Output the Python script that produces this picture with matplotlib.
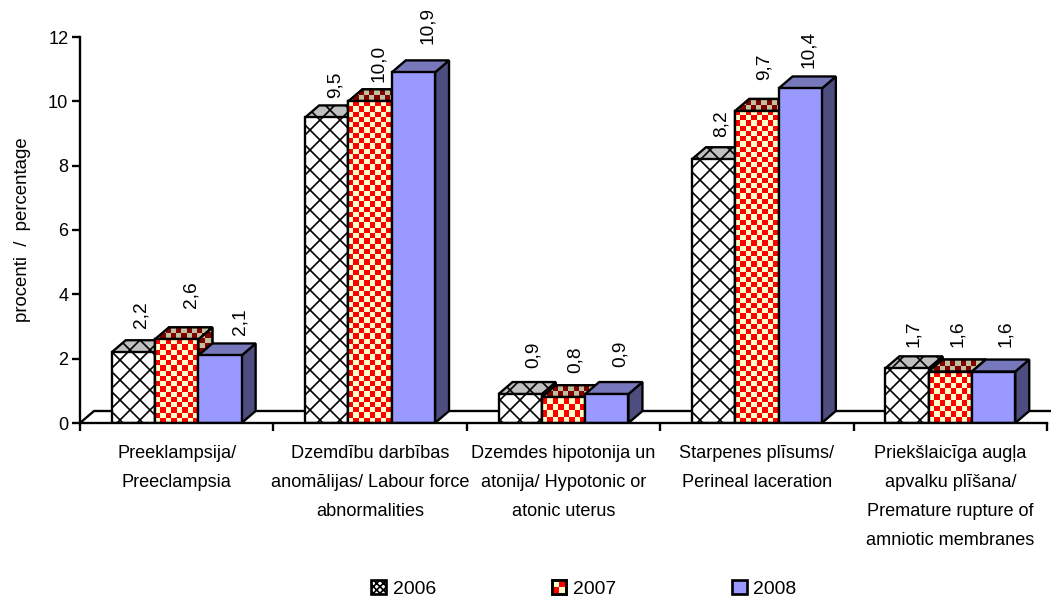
import matplotlib
matplotlib.use('Agg')
import matplotlib.pyplot as plt
import numpy as np
from matplotlib.colors import ListedColormap
from matplotlib.legend_handler import HandlerBase
from matplotlib.patches import Patch, Polygon, Rectangle

categories = ['Preeklampsija/\nPreeclampsia',
              'Dzemdību darbības\nanomālijas/ Labour force\nabnormalities',
              'Dzemdes hipotonija un\natonija/ Hypotonic or\natonic uterus',
              'Starpenes plīsums/\nPerineal laceration',
              'Priekšlaicīga augļa\napvalku plīšana/\nPremature rupture of\namniotic membranes']
years = ['2006', '2007', '2008']
v2006 = [2.2, 9.5, 0.9, 8.2, 1.7]
v2007 = [2.6, 10.0, 0.8, 9.7, 1.6]
v2008 = [2.1, 10.9, 0.9, 10.4, 1.6]
series = [v2006, v2007, v2008]
yticks = [0, 2, 4, 6, 8, 10, 12]

# hand placed value labels, offsets in pixels from the bar top, per year
label_dx = [[8, 8, 13, 8, 6], [14, 8, 12, 7, 7], [20, 14, 13, 8, 12]]
label_dy = [[24, 19, 26, 22, 21], [31, 19, 24, 31, 25], [20, 28, 27, 20, 25]]

plt.rcParams['font.family'] = ['Liberation Sans', 'DejaVu Sans']
plt.rcParams['font.size'] = 10.9
plt.rcParams['hatch.linewidth'] = 1.0

W, H, DPI = 1051, 598, 120
LW = 1.4
fig = plt.figure(figsize=(W / DPI, H / DPI), dpi=DPI)
ax = fig.add_axes([80 / W, (H - 423) / H, 967 / W, 386 / H])
ax.set_xlim(0, 5)
ax.set_ylim(0, 12)

px_x = 967 / 5       # pixels per category
px_y = 386 / 12      # pixels per percent
dx = 14 / px_x       # 3d depth
dy = 12 / px_y
bw = 43.3 / px_x
px = 72 / DPI        # one pixel in points

yellow, red = '#FFFFCC', '#FF0000'
dark_yellow, dark_red = '#C0C0A0', '#800000'


def checker(x0, x1, y0, y1, clip, z, c0, c1):
    nx = max(int((x1 - x0) * px_x / 5.2), 1)
    ny = max(int((y1 - y0) * px_y / 5.2), 1)
    grid = np.indices((ny, nx)).sum(axis=0) % 2
    im = ax.imshow(grid, extent=[x0, x1, y0, y1], aspect='auto', origin='lower',
                   cmap=ListedColormap([c0, c1]), vmin=0, vmax=1,
                   interpolation='nearest', zorder=z, clip_on=True)
    im.set_clip_path(clip)


def face(pts, z, color, hatch=None, check=None):
    p = Polygon(pts, closed=True, facecolor=color, edgecolor='black', linewidth=LW,
                hatch=hatch, zorder=z, clip_on=False, joinstyle='miter')
    ax.add_patch(p)
    if check:
        xs, ys = zip(*pts)
        checker(min(xs), max(xs), min(ys), max(ys), p, z + 0.1, *check)
        ax.add_patch(Polygon(pts, closed=True, fill=False, edgecolor='black', linewidth=LW,
                             zorder=z + 0.2, clip_on=False, joinstyle='miter'))


styles = [
    dict(front='white', top='#C0C0C0', side='#C0C0C0', hatch='xx'),
    dict(front=yellow, top=dark_yellow, side=dark_yellow, hatch=None),
    dict(front='#9999FF', top='#7777BB', side='#4D4D80', hatch=None),
]

# floor
ax.plot([0, dx, 5 + dx], [0, dy, dy], color='black', lw=LW, zorder=1, clip_on=False)

z = 2
for i in range(len(categories)):
    for j, vals in enumerate(series):
        v = vals[i]
        left = i + 0.5 + (j - 1.5) * bw
        right = left + bw
        st = styles[j]
        is_check = j == 1
        face([(right, 0), (right + dx, dy), (right + dx, v + dy), (right, v)], z, st['side'],
             st['hatch'], (dark_yellow, dark_red) if is_check else None)
        face([(left, v), (left + dx, v + dy), (right + dx, v + dy), (right, v)], z + 1, st['top'],
             st['hatch'], (dark_yellow, dark_red) if is_check else None)
        ax.bar(left, v, bw, align='edge', facecolor=st['front'], edgecolor='black', linewidth=LW,
               hatch=st['hatch'], zorder=z + 2)
        if is_check:
            bar = ax.patches[-1]
            checker(left, right, 0, v, bar, z + 2.1, yellow, red)
            ax.bar(left, v, bw, align='edge', fill=False, edgecolor='black', linewidth=LW,
                   zorder=z + 2.2)
        ax.annotate(f'{v:.1f}'.replace('.', ','), (left + bw / 2, v),
                    xytext=(label_dx[j][i] * px, label_dy[j][i] * px),
                    textcoords='offset points', rotation=90, ha='center', va='bottom',
                    fontsize=11.5, zorder=100, annotation_clip=False)
        z += 3

ax.set_xlim(0, 5)
ax.set_ylim(0, 12)

for s in ('top', 'right'):
    ax.spines[s].set_visible(False)
for s in ('left', 'bottom'):
    ax.spines[s].set_linewidth(LW)
    ax.spines[s].set_zorder(90)

ax.set_yticks(yticks)
ax.set_xticks(range(6))
ax.set_xticklabels([])
ax.set_xticks(np.arange(5) + 0.5, minor=True)
ax.set_xticklabels(categories, minor=True, linespacing=1.93, va='top')
ax.tick_params(axis='x', which='major', length=5, width=LW)
ax.tick_params(axis='x', which='minor', length=0, pad=13)
ax.tick_params(axis='y', length=5, width=LW, pad=2)
ax.set_ylabel('procenti  /  percentage', fontsize=11.2, labelpad=10)


class SwatchHandler(HandlerBase):
    def __init__(self, color, check=False, hatch=None):
        super().__init__()
        self.color, self.check, self.hatch = color, check, hatch

    def create_artists(self, legend, orig, xd, yd, width, height, fontsize, trans):
        out = [Rectangle((-xd, -yd), width, height, facecolor=self.color, edgecolor='black',
                         linewidth=1.6, hatch=self.hatch, transform=trans)]
        if self.check:
            out.append(Rectangle((-xd, -yd), width / 2, height / 2, facecolor=red, transform=trans))
            out.append(Rectangle((-xd + width / 2, -yd + height / 2), width / 2, height / 2,
                                 facecolor=red, transform=trans))
            out.append(Rectangle((-xd, -yd), width, height, fill=False, edgecolor='black',
                                 linewidth=1.6, transform=trans))
        return out


handles = [Patch(label=y) for y in years]
handler_map = {handles[0]: SwatchHandler('white', hatch='xxxxxx'),
               handles[1]: SwatchHandler(yellow, check=True),
               handles[2]: SwatchHandler('#9999FF')}
fig.legend(handles=handles, handler_map=handler_map, ncol=3, frameon=False,
           loc='center', bbox_to_anchor=(584 / W, (H - 589) / H), fontsize=11.6,
           handlelength=0.75, handleheight=0.75, handletextpad=0.35, columnspacing=6.0,
           borderpad=0, borderaxespad=0)

fig.savefig('out.png', dpi=DPI)
